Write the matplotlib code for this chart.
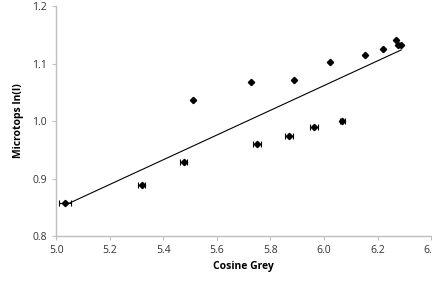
import matplotlib
matplotlib.use("Agg")
import matplotlib.pyplot as plt
import numpy as np

cosine_grey = [5.034, 5.319, 5.476, 5.511, 5.727, 5.749, 5.869, 5.887, 5.962,
               6.022, 6.069, 6.153, 6.221, 6.269, 6.278, 6.288]
microtops = [0.858, 0.888, 0.928, 1.037, 1.068, 0.960, 0.974, 1.072, 0.989,
             1.103, 1.001, 1.116, 1.125, 1.141, 1.132, 1.132]
x_err = [0.022, 0.013, 0.014, 0.0, 0.0, 0.014, 0.014, 0.0, 0.015,
         0.0, 0.008, 0.0, 0.0, 0.0, 0.0, 0.0]
x_ticks = [5.0, 5.2, 5.4, 5.6, 5.8, 6.0, 6.2, 6.4]
y_ticks = [0.8, 0.9, 1.0, 1.1, 1.2]

plt.rcParams['font.family'] = ['Open Sans', 'DejaVu Sans']

fig = plt.figure(figsize=(4.32, 2.87), dpi=100)
ax = fig.add_axes([0.130, 0.178, 0.868, 0.800])

x = np.array(cosine_grey)
y = np.array(microtops)
slope, intercept = np.polyfit(x, y, 1)
xl = np.array([x.min(), x.max()])
ax.plot(xl, slope * xl + intercept, color='black', lw=0.8, zorder=2)

ax.errorbar(x, y, xerr=x_err, fmt='D', color='black', ms=3.2,
            ecolor='black', elinewidth=0.8, capsize=2, capthick=0.8, zorder=3)

ax.set_xlim(5.0, 6.4)
ax.set_ylim(0.8, 1.2)
ax.set_xticks(x_ticks)
ax.set_yticks(y_ticks)
ax.set_xticklabels([f"{v:.1f}" for v in x_ticks])
ax.set_yticklabels([f"{v:.1f}" for v in y_ticks])
for s in ['top', 'right']:
    ax.spines[s].set_visible(False)
for s in ['left', 'bottom']:
    ax.spines[s].set_color('#BFBFBF')
    ax.spines[s].set_linewidth(1.0)
ax.tick_params(axis='both', direction='out', length=3, color='#BFBFBF',
               labelsize=7.5, labelcolor='#333333', width=0.8)
ax.set_xlabel('Cosine Grey', fontsize=7.5, fontweight='bold', labelpad=4)
ax.set_ylabel('Microtops ln(I)', fontsize=7.5, fontweight='bold', labelpad=6)

fig.savefig('out.png', dpi=100)
